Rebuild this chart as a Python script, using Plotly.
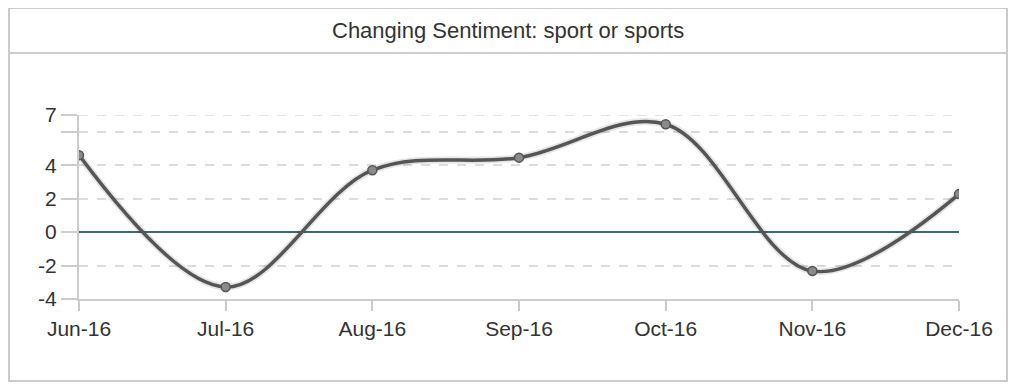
import plotly.graph_objects as go

categories = ["Jun-16", "Jul-16", "Aug-16", "Sep-16", "Oct-16", "Nov-16", "Dec-16"]
sentiment = [4.6, -3.28, 3.7, 4.45, 6.45, -2.33, 2.27]
y_tickvals = [-4, -2, 0, 2, 4, 6, 7]
y_ticktext = ["-4", "-2", "0", "2", "4", "", "7"]
title_text = "Changing Sentiment: sport or sports"

OFF = 8  # body margin of the html page
W, H = 1017 - OFF, 392 - OFF
L, T = 79 - OFF, 115 - OFF
pw, ph = 880, 184
R, B = W - L - pw, H - T - ph

def px_x(p):
    return (p - OFF - L) / pw

def px_y(p):
    return (T + ph - (p - OFF)) / ph

fig = go.Figure()
fig.add_trace(go.Scatter(
    x=categories, y=sentiment, mode="lines",
    line=dict(shape="spline", smoothing=1.0, color="rgba(0,0,0,0.10)", width=7),
    hoverinfo="skip", showlegend=False,
))
fig.add_trace(go.Scatter(
    x=categories, y=sentiment, mode="lines+markers",
    line=dict(shape="spline", smoothing=1.0, color="#555555", width=3.5),
    marker=dict(size=9, color="#8a8a8a", line=dict(color="#555555", width=1.5)),
    showlegend=False,
))

font_fam = "Liberation Sans, Arial, sans-serif"

fig.update_layout(
    width=W, height=H,
    margin=dict(l=L, r=R, t=T, b=B),
    paper_bgcolor="white", plot_bgcolor="white",
    font=dict(family=font_fam, size=21, color="#333333"),
    xaxis=dict(
        type="category", range=[0, 6], showgrid=False, zeroline=False,
        showline=True, linecolor="#cccccc", linewidth=2,
        ticks="outside", ticklen=10, tickwidth=2, tickcolor="#cccccc",
        tickfont=dict(size=21, color="#333333"),
    ),
    yaxis=dict(
        range=[-4, 7], tickvals=y_tickvals, ticktext=y_ticktext,
        showgrid=True, gridcolor="#dcdcdc", griddash="dash", gridwidth=1.5,
        zeroline=True, zerolinecolor="#3f6970", zerolinewidth=1.5,
        showline=True, linecolor="#cccccc", linewidth=2,
        ticks="outside", ticklen=16, tickwidth=2, tickcolor="#cccccc",
        tickfont=dict(size=21, color="#333333"),
    ),
    shapes=[
        dict(type="rect", xref="paper", yref="paper",
             x0=px_x(9), x1=px_x(1007), y0=px_y(381), y1=px_y(8),
             line=dict(color="#cccccc", width=2), layer="below"),
        dict(type="line", xref="paper", yref="paper",
             x0=px_x(9), x1=px_x(1007), y0=px_y(53), y1=px_y(53),
             line=dict(color="#cccccc", width=2)),
        dict(type="line", xref="paper", yref="y",
             x0=0, x1=1, y0=7, y1=7, layer="below",
             line=dict(color="#dcdcdc", width=1.5, dash="dash")),
    ],
    annotations=[
        dict(text=title_text, xref="paper", yref="paper",
             x=px_x(508), y=px_y(30), showarrow=False,
             xanchor="center", yanchor="middle",
             font=dict(size=22, color="#333333", family=font_fam)),
    ],
)

fig.write_html("out.html")
